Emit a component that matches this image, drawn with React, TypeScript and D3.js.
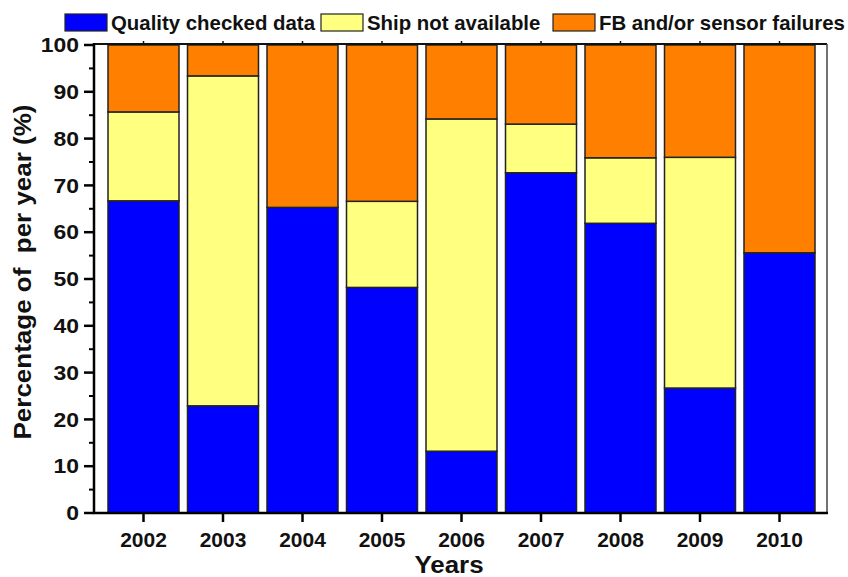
import React from "react";
import * as d3 from "d3";

const years = ["2002", "2003", "2004", "2005", "2006", "2007", "2008", "2009", "2010"];
const quality = [66.7, 22.9, 65.3, 48.2, 13.2, 72.7, 61.9, 26.7, 55.6];
const ship = [19.0, 70.5, 0, 18.4, 71.0, 10.4, 14.0, 49.3, 0];
const fb = [14.3, 6.6, 34.7, 33.4, 15.8, 16.9, 24.1, 24.0, 44.4];
const seriesNames = ["Quality checked data", "Ship not available", "FB and/or sensor failures"];
const seriesColors = ["#0000FF", "#FFFF80", "#FF8000"];
const yTicks = [0, 10, 20, 30, 40, 50, 60, 70, 80, 90, 100];
const yMinor = [5, 15, 25, 35, 45, 55, 65, 75, 85, 95];

const W = 848, H = 577;
const left = 94, right = 827, top = 44, bottom = 513;
const FONT = "'Liberation Sans', Arial, sans-serif";

export default function App() {
  const x = d3.scaleBand<string>().domain(years).range([103.75, 819.25]).paddingInner(0.107).paddingOuter(0.0535);
  const y = d3.scaleLinear().domain([0, 100]).range([bottom, 45]);
  const rows = years.map((yr, i) => ({ year: yr, q: quality[i], s: ship[i], f: fb[i] }));
  const stack = d3.stack<any>().keys(["q", "s", "f"]);
  const layers = stack(rows);
  const legendItems = [
    { sx: 65, tx: 111 },
    { sx: 321, tx: 367 },
    { sx: 553, tx: 599 },
  ];
  return (
    <svg width={W} height={H} style={{ position: "absolute", left: 0, top: 0, background: "#fff" }} fontFamily={FONT}>
      {/* legend */}
      {legendItems.map((l, i) => (
        <g key={i}>
          <rect x={l.sx} y={14} width={42} height={17} fill={seriesColors[i]} stroke="#222" strokeWidth={1.2} />
          <text x={l.tx} y={30} fontSize={20.4} fontWeight="bold" fill="#111">{seriesNames[i]}</text>
        </g>
      ))}
      {/* bars */}
      {layers.map((layer, li) => (
        <g key={li}>
          {layer.map((d, i) =>
            d[1] - d[0] > 0 ? (
              <rect
                key={i}
                x={x(years[i])!}
                y={y(d[1])}
                width={x.bandwidth()}
                height={y(d[0]) - y(d[1])}
                fill={seriesColors[li]}
                stroke="#222"
                strokeWidth={1.5}
              />
            ) : null
          )}
        </g>
      ))}
      {/* frame */}
      <line x1={left} x2={right} y1={top} y2={top} stroke="#111" strokeWidth={2} />
      <line x1={right} x2={right} y1={top} y2={bottom} stroke="#444" strokeWidth={1.5} />
      {/* top ticks */}
      {years.map((yr) => (
        <line key={yr} x1={x(yr)! + x.bandwidth() / 2} x2={x(yr)! + x.bandwidth() / 2} y1={top} y2={top - 3} stroke="#111" strokeWidth={1.5} />
      ))}
      {/* y axis */}
      <line x1={left} x2={left} y1={top - 1} y2={bottom + 1} stroke="#000" strokeWidth={2.5} />
      {yTicks.map((t) => (
        <g key={t}>
          <line x1={left - 10} x2={left} y1={y(t)} y2={y(t)} stroke="#000" strokeWidth={2.5} />
          <text
            x={0}
            y={0}
            dy="0.35em"
            textAnchor="end"
            fontSize={20.5}
            fontWeight="bold"
            fill="#111"
            transform={`translate(79,${y(t)}) scale(1.12,1)`}
          >
            {t}
          </text>
        </g>
      ))}
      {yMinor.map((t) => (
        <line key={t} x1={left - 5} x2={left} y1={y(t)} y2={y(t)} stroke="#000" strokeWidth={2} />
      ))}
      {/* x axis */}
      <line x1={left - 1} x2={right + 1} y1={bottom} y2={bottom} stroke="#000" strokeWidth={2.5} />
      {years.map((yr) => {
        const cx = x(yr)! + x.bandwidth() / 2;
        return (
          <g key={yr}>
            <line x1={cx} x2={cx} y1={bottom} y2={bottom + 9} stroke="#000" strokeWidth={2.5} />
            <text x={0} y={0} textAnchor="middle" fontSize={20} fontWeight="bold" fill="#111" transform={`translate(${cx},547) scale(1.05,1)`}>{yr}</text>
          </g>
        );
      })}
      <text x={0} y={0} textAnchor="middle" fontSize={24} fontWeight="bold" fill="#111" transform="translate(449,573) scale(1.08,1)">Years</text>
      <text
        transform={`translate(31,272) rotate(-90) scale(1.13,1)`}
        textAnchor="middle"
        fontSize={23}
        fontWeight="bold"
        fill="#111"
        style={{ whiteSpace: "pre" }}
      >
        {"Percentage of  per year (%)"}
      </text>
    </svg>
  );
}
